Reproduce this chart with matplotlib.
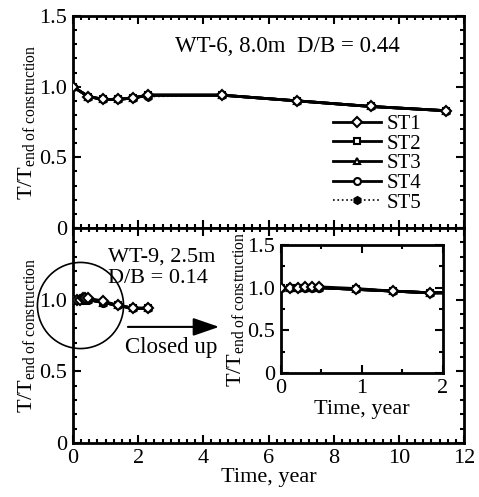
import matplotlib.pyplot as plt
from matplotlib.ticker import MultipleLocator

plt.rcParams['font.family'] = ['Liberation Serif', 'DejaVu Serif']
plt.rcParams['mathtext.fontset'] = 'custom'
plt.rcParams['mathtext.rm'] = 'Liberation Serif'
plt.rcParams['mathtext.it'] = 'Liberation Serif:italic'

# ---------------- data ----------------
STATIONS = ["ST1", "ST2", "ST3", "ST4", "ST5"]

# WT-6, 8.0m (upper panel)
t_wt6 = [0.0, 0.47, 0.93, 1.38, 1.84, 2.30, 4.57, 6.86, 9.14, 11.45]
r_wt6 = {
    "ST1": [1.00, 0.93, 0.91, 0.91, 0.92, 0.94, 0.94, 0.90, 0.86, 0.83],
    "ST2": [1.00, 0.93, 0.91, 0.91, 0.92, 0.94, 0.94, 0.90, 0.86, 0.83],
    "ST3": [1.00, 0.93, 0.91, 0.91, 0.92, 0.94, 0.94, 0.90, 0.86, 0.83],
    "ST4": [1.00, 0.93, 0.91, 0.91, 0.92, 0.94, 0.94, 0.90, 0.86, 0.83],
    "ST5": [1.00, 0.93, 0.91, 0.91, 0.92, 0.93, 0.94, 0.90, 0.86, 0.83],
}

# WT-9, 2.5m (lower panel + close-up)
t_wt9 = [0.0, 0.11, 0.21, 0.30, 0.38, 0.47, 0.93, 1.38, 1.84, 2.30]
r_wt9 = {
    "ST1": [1.00, 1.00, 1.00, 1.01, 1.01, 1.01, 0.99, 0.96, 0.94, 0.94],
    "ST2": [1.00, 1.00, 1.00, 1.00, 1.00, 1.00, 0.98, 0.96, 0.94, 0.94],
    "ST3": [1.00, 1.00, 1.00, 1.00, 1.00, 1.00, 0.98, 0.96, 0.94, 0.94],
    "ST4": [1.00, 1.00, 1.00, 1.00, 1.00, 1.00, 0.98, 0.96, 0.94, 0.94],
    "ST5": [1.00, 1.00, 1.00, 1.00, 1.00, 1.00, 0.98, 0.96, 0.94, 0.94],
}

STYLE = {
    "ST1": dict(marker="D", ms=5.5, mfc="white", ls="-", z=7),
    "ST2": dict(marker="s", ms=4.5, mfc="white", ls="-", z=6),
    "ST3": dict(marker="^", ms=4.5, mfc="white", ls="-", z=5),
    "ST4": dict(marker="o", ms=5.0, mfc="white", ls="-", z=4),
    "ST5": dict(marker="h", ms=5.0, mfc="black", ls=":", z=3),
}

YLABEL = r"T/T$_{\mathrm{end\ of\ construction}}$"
FS = 16


def style_axes(ax, xmin, xmaj, ymin, ymaj):
    ax.xaxis.set_major_locator(MultipleLocator(xmaj))
    ax.xaxis.set_minor_locator(MultipleLocator(xmin))
    ax.yaxis.set_major_locator(MultipleLocator(ymaj))
    ax.yaxis.set_minor_locator(MultipleLocator(ymin))
    ax.tick_params(which="both", direction="in", top=True, right=True, width=1.5)
    ax.tick_params(which="major", length=6, labelsize=FS, pad=4)
    ax.tick_params(which="minor", length=3)
    for s in ax.spines.values():
        s.set_linewidth(2)


def fmt(v, pos):
    return "0" if v == 0 else f"{v:.1f}"


def draw_series(ax, t, data, legend=False):
    for st in STATIONS:
        sty = STYLE[st]
        ax.plot(t, data[st], color="black",
                lw=(2 if sty["ls"] == "-" else 1.2) if legend else 2,
                ls=sty["ls"] if legend else "-",
                marker=sty["marker"], ms=sty["ms"], mfc=sty["mfc"],
                mec="black", mew=1.5, zorder=sty["z"], label=st)


fig = plt.figure(figsize=(4.79, 4.97), dpi=100)
ax1 = fig.add_axes([0.1524, 0.5412, 0.8163, 0.4266])
ax2 = fig.add_axes([0.1524, 0.1087, 0.8163, 0.4325])

# --- upper panel ---
draw_series(ax1, t_wt6, r_wt6, legend=True)
ax1.set_xlim(0, 12)
ax1.set_ylim(0, 1.5)
style_axes(ax1, 0.25, 2, 0.1, 0.5)
ax1.tick_params(labelbottom=False)
ax1.yaxis.set_major_formatter(plt.FuncFormatter(fmt))
ax1.set_ylabel(YLABEL, fontsize=FS, labelpad=2)
ax1.text(0.26, 0.854, "WT-6, 8.0m  D/B = 0.44", transform=ax1.transAxes,
         fontsize=16.5, va="center")
handles, labels = ax1.get_legend_handles_labels()
ax1.legend(handles, labels, loc="upper left", bbox_to_anchor=(0.665, 0.535),
           frameon=False, fontsize=15, handlelength=2.3, handletextpad=0.25,
           labelspacing=0.0, borderpad=0, borderaxespad=0)

# --- lower panel ---
draw_series(ax2, t_wt9, r_wt9)
ax2.set_xlim(0, 12)
ax2.set_ylim(0, 1.5)
style_axes(ax2, 0.25, 2, 0.1, 0.5)
ax2.set_yticks([0, 0.5, 1.0])
ax2.yaxis.set_major_formatter(plt.FuncFormatter(fmt))
ax2.set_ylabel(YLABEL, fontsize=FS, labelpad=2)
ax2.set_xlabel("Time, year", fontsize=FS, labelpad=0)
ax2.text(0.09, 0.865, "WT-9, 2.5m", transform=ax2.transAxes, fontsize=FS, va="center")
ax2.text(0.09, 0.767, "D/B = 0.14", transform=ax2.transAxes, fontsize=FS, va="center")
# circle around close-up region
ax2.plot([0.2], [0.96], marker="o", ms=62, mfc="none", mec="black", mew=1.2,
         clip_on=False, zorder=8)
ax2.annotate("", xy=(4.57, 0.81), xytext=(1.6, 0.81),
             arrowprops=dict(arrowstyle="-|>,head_length=1.6,head_width=0.55",
                             color="black", lw=1.5))
ax2.text(1.6, 0.663, "Closed up", fontsize=16.5, va="center")

# --- close-up inset ---
ax3 = fig.add_axes([0.5866, 0.2495, 0.3382, 0.2575])
draw_series(ax3, t_wt9, r_wt9)
ax3.set_xlim(0, 2)
ax3.set_ylim(0, 1.5)
style_axes(ax3, 0.5, 1, 0.25, 0.5)
ax3.yaxis.set_major_formatter(plt.FuncFormatter(fmt))
ax3.xaxis.set_major_formatter(plt.FuncFormatter(lambda v, p: f"{v:.0f}"))
ax3.set_ylabel(YLABEL, fontsize=FS, labelpad=1)
ax3.set_xlabel("Time, year", fontsize=FS, labelpad=2)

fig.savefig("out.png", dpi=100)
